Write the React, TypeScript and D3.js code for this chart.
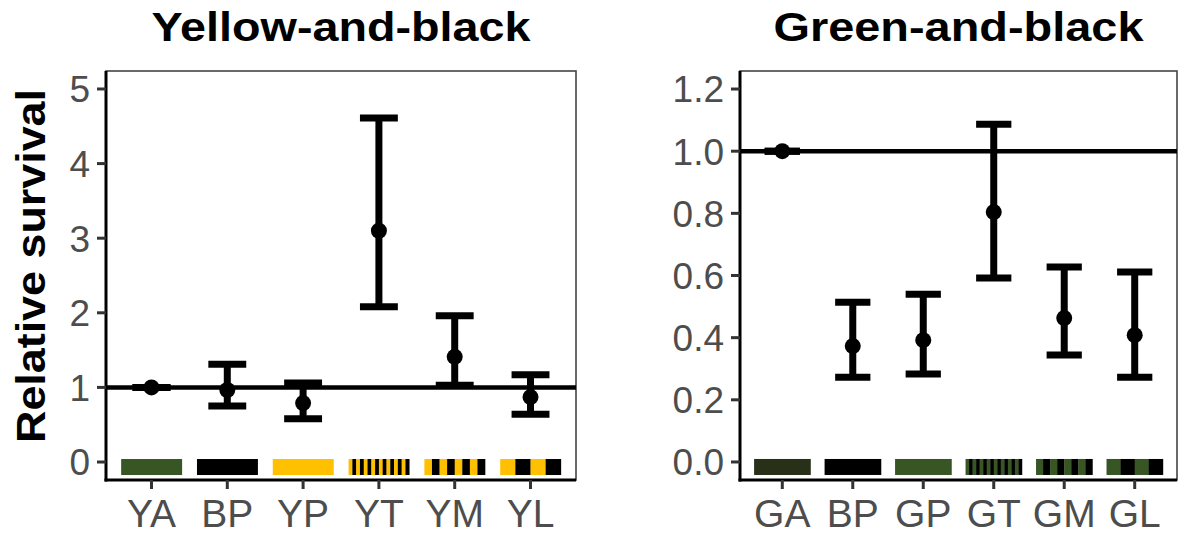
import React from "react";
import * as d3 from "d3";

// yellow-and-black panel
const yellowCats = ["YA", "BP", "YP", "YT", "YM", "YL"];
const yellowMean = [1.0, 0.965, 0.79, 3.1, 1.41, 0.87];
const yellowLower = [1.0, 0.75, 0.58, 2.08, 1.03, 0.64];
const yellowUpper = [1.0, 1.31, 1.06, 4.61, 1.96, 1.17];
const yellowTicks = [0, 1, 2, 3, 4, 5];
const yellowSwatches = ["G", "K", "Y", "YKYKYKYKYKYKYKYK", "YKYKYKYK", "YKYK"];

// green-and-black panel
const greenCats = ["GA", "BP", "GP", "GT", "GM", "GL"];
const greenMean = [1.0, 0.373, 0.392, 0.804, 0.463, 0.408];
const greenLower = [1.0, 0.273, 0.283, 0.592, 0.344, 0.273];
const greenUpper = [1.0, 0.514, 0.54, 1.087, 0.627, 0.611];
const greenTicks = [0, 0.2, 0.4, 0.6, 0.8, 1.0, 1.2];
const greenSwatches = ["D", "K", "G", "GKGKGKGKGKGKGKGK", "GKGKGKGK", "GKGK"];

const swatchColors: Record<string, string> = {
  Y: "#FFC000",
  K: "#000000",
  G: "#375623",
  D: "#283018",
};

const FONT = "'Liberation Sans', Arial, Helvetica, sans-serif";

type PanelProps = {
  title: string;
  titleWidth: number;
  cats: string[];
  mean: number[];
  lower: number[];
  upper: number[];
  ticks: number[];
  tickFmt: (v: number) => string;
  swatches: string[];
  domain: [number, number];
  x0: number;
  x1: number;
};

const Panel = (p: PanelProps) => {
  const top = 71;
  const bottom = 480;
  const x = d3.scalePoint<string>().domain(p.cats).range([p.x0, p.x1]).padding(0.6);
  const y = d3.scaleLinear().domain(p.domain).range([bottom, top]);
  const step = x.step();
  const cap = step * 0.25;
  const barW = step * 0.8;

  return (
    <g>
      <text
        x={(p.x0 + p.x1) / 2}
        y={41}
        textAnchor="middle"
        fontFamily={FONT}
        fontWeight="bold"
        fontSize={40}
        textLength={p.titleWidth}
        lengthAdjust="spacingAndGlyphs"
      >
        {p.title}
      </text>

      {/* panel border */}
      <rect x={p.x0} y={top} width={p.x1 - p.x0} height={bottom - top} fill="white" stroke="#444" strokeWidth={1.6} />

      {/* colour swatches along the bottom */}
      {p.cats.map((c, i) => {
        const segs = p.swatches[i].split("");
        const segW = barW / segs.length;
        const left = x(c)! - barW / 2;
        return segs.map((s, j) => (
          <rect
            key={c + j}
            x={left + j * segW}
            y={y(0) - 3}
            width={segW + 0.3}
            height={16}
            fill={swatchColors[s]}
          />
        ));
      })}

      {/* reference line */}
      <line x1={p.x0} x2={p.x1} y1={y(1)} y2={y(1)} stroke="black" strokeWidth={4.5} />

      {/* error bars and points */}
      {p.cats.map((c, i) => {
        const cx = x(c)!;
        return (
          <g key={c} stroke="black" strokeWidth={7}>
            <line x1={cx} x2={cx} y1={y(p.lower[i])} y2={y(p.upper[i])} />
            <line x1={cx - cap} x2={cx + cap} y1={y(p.upper[i])} y2={y(p.upper[i])} />
            <line x1={cx - cap} x2={cx + cap} y1={y(p.lower[i])} y2={y(p.lower[i])} />
            <circle cx={cx} cy={y(p.mean[i])} r={8} fill="black" stroke="none" />
          </g>
        );
      })}

      {/* axis lines */}
      <line x1={p.x0} x2={p.x0} y1={top} y2={bottom + 1.5} stroke="black" strokeWidth={3} />
      <line x1={p.x0 - 1.5} x2={p.x1} y1={bottom} y2={bottom} stroke="black" strokeWidth={3} />

      {/* y ticks */}
      {p.ticks.map((t) => (
        <g key={t}>
          <line x1={p.x0 - 9} x2={p.x0} y1={y(t)} y2={y(t)} stroke="#333" strokeWidth={3} />
          <text
            x={p.x0 - 16}
            y={y(t)}
            dy="0.36em"
            textAnchor="end"
            fontFamily={FONT}
            fontSize={37}
            fill="#4D4D4D"
          >
            {p.tickFmt(t)}
          </text>
        </g>
      ))}

      {/* x ticks */}
      {p.cats.map((c) => (
        <g key={c}>
          <line x1={x(c)} x2={x(c)} y1={bottom} y2={bottom + 9} stroke="#333" strokeWidth={3} />
          <text x={x(c)} y={527} textAnchor="middle" fontFamily={FONT} fontSize={39} fill="#4D4D4D">
            {c}
          </text>
        </g>
      ))}
    </g>
  );
};

const App = () => {
  return (
    <svg width={1179} height={536} style={{ position: "absolute", left: 0, top: 0, background: "white" }}>
      <rect width={1179} height={536} fill="white" />
      <text
        transform="translate(45,266) rotate(-90)"
        textAnchor="middle"
        fontFamily={FONT}
        fontWeight="bold"
        fontSize={41}
        textLength={354}
        lengthAdjust="spacingAndGlyphs"
      >
        Relative survival
      </text>
      <Panel
        title="Yellow-and-black"
        titleWidth={379}
        cats={yellowCats}
        mean={yellowMean}
        lower={yellowLower}
        upper={yellowUpper}
        ticks={yellowTicks}
        tickFmt={d3.format("d")}
        swatches={yellowSwatches}
        domain={[-0.241, 5.241]}
        x0={106}
        x1={576}
      />
      <Panel
        title="Green-and-black"
        titleWidth={370}
        cats={greenCats}
        mean={greenMean}
        lower={greenLower}
        upper={greenUpper}
        ticks={greenTicks}
        tickFmt={d3.format(".1f")}
        swatches={greenSwatches}
        domain={[-0.058, 1.258]}
        x0={740}
        x1={1177}
      />
    </svg>
  );
};

export default App;
